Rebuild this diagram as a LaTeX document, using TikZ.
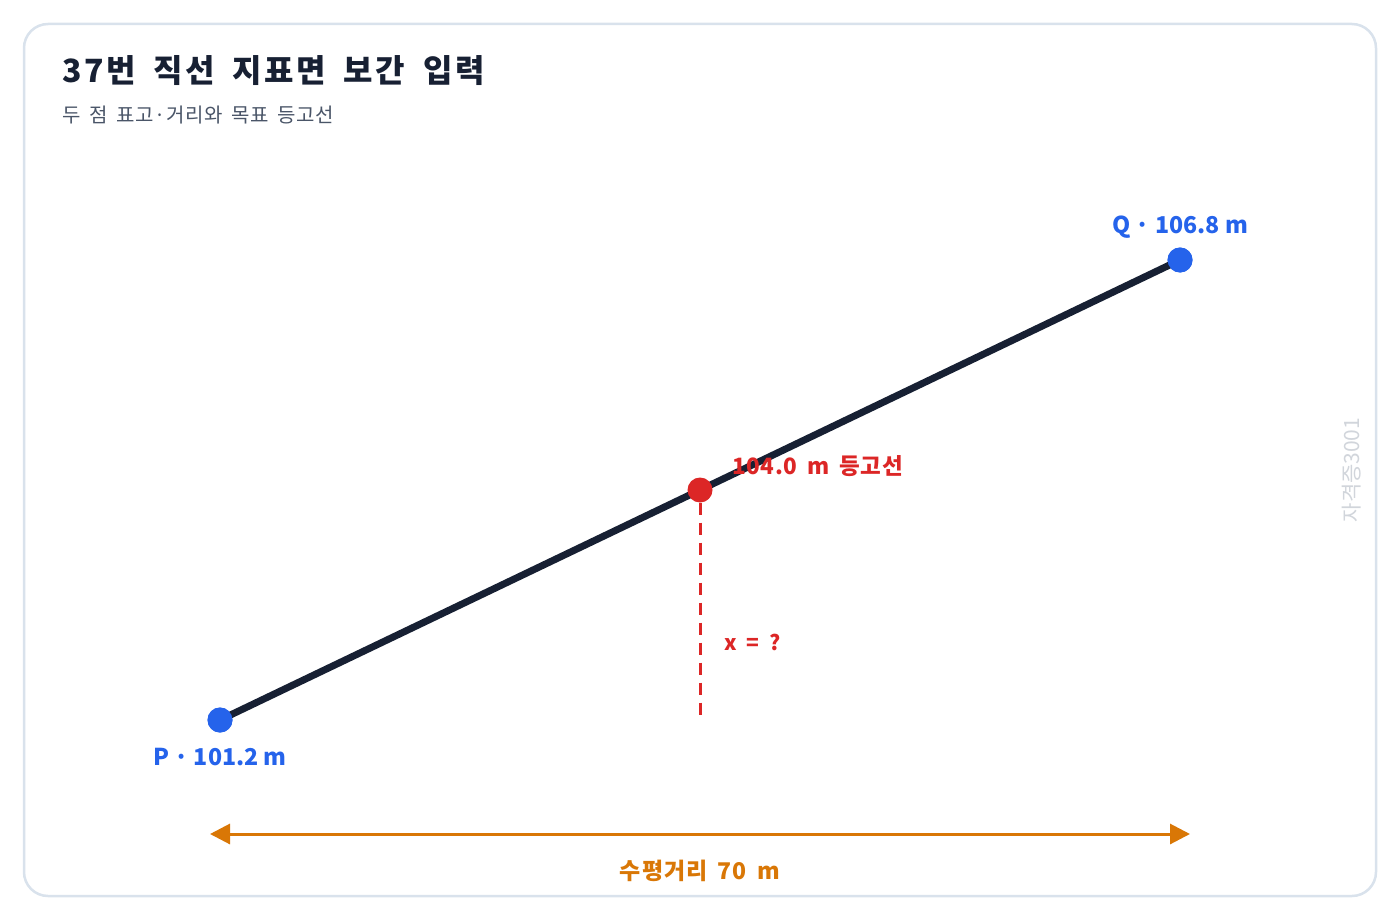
\documentclass[tikz,border=0pt]{standalone}
\usepackage{fontspec}
\setmainfont{Noto Sans CJK KR}[WordSpace=1.7]
\newfontfamily\titlefont{Noto Sans CJK KR}[WordSpace=1.8, LetterSpace=8]
\newfontfamily\labelfont{Noto Sans CJK KR}
\usepackage{tikz}
\usetikzlibrary{arrows.meta, positioning, calc}

\definecolor{framec}{HTML}{D9E2EC}
\definecolor{inkc}{HTML}{172033}
\definecolor{subc}{HTML}{4A5568}
\definecolor{ptblue}{HTML}{2563EB}
\definecolor{ptred}{HTML}{DC2626}
\definecolor{distc}{HTML}{D97706}
\definecolor{markc}{HTML}{D1D5DB}

\begin{document}
\begin{tikzpicture}[
        x=1pt, y=-1pt,
        frame/.style={draw=framec, line width=2.5pt, rounded corners=24pt, fill=white},
        title/.style={anchor=base west, inner sep=0pt, font=\titlefont\fontsize{32}{36}\selectfont\bfseries, text=inkc},
        subtitle/.style={anchor=base west, inner sep=0pt, font=\fontsize{20}{24}\selectfont\addfontfeatures{LetterSpace=3}, text=subc},
        dot/.style={circle, minimum size=25pt, inner sep=0pt},
        ptlabel/.style={font=\labelfont\fontsize{23.2}{26}\selectfont\bfseries, text=ptblue, inner sep=0pt},
        redlabel/.style={font=\fontsize{22.5}{26}\selectfont\bfseries\addfontfeatures{LetterSpace=3}, text=ptred, inner sep=0pt},
        line/.style={-, line width=7pt, draw=inkc},
        guide/.style={-, line width=3pt, draw=ptred, dash pattern=on 12pt off 8pt},
        arrow/.style={{Triangle[length=20pt,width=20pt]}-{Triangle[length=20pt,width=20pt]}, line width=3pt, draw=distc},
        every node/.style={font=\small}
    ]

    % Frame
    \useasboundingbox (0,0) rectangle (1400,920);
    \draw[frame] (24,24) rectangle (1376,896);

    % Title
    \node[title] (head) at (62,83) {37번 직선 지표면 보간 입력};
    \node[subtitle] (sub) at (62,123) {두 점 표고·거리와 목표 등고선};

    % Points
    \node[dot, fill=ptblue] (p) at (220,720) {};
    \node[dot, fill=ptblue] (q) at (1180,260) {};
    \draw[line] (p.center) -- (q.center);
    \node[dot, fill=ptblue] at (p) {};
    \node[dot, fill=ptblue] at (q) {};
    \node[ptlabel] (plabel) at (220,757) {P · 101.2 m};
    \node[ptlabel] (qlabel) at (1180,227) {Q · 106.8 m};

    % Contour point
    \coordinate (foot) at (700,720);
    \node[dot, fill=ptred] (c) at (700,490) {};
    \draw[guide] (c.south) -- (foot);
    \node[redlabel, anchor=west] (clabel) at (732,466) {104.0 m 등고선};
    \node[redlabel, anchor=west, font=\labelfont\fontsize{21}{24}\selectfont\bfseries] (xlabel) at (724,642) {x\hspace{10pt}=\hspace{10pt}?};

    % Horizontal distance
    \coordinate (dleft) at (210,834);
    \coordinate (dright) at (1190,834);
    \draw[arrow] (dleft) -- (dright);
    \node[font=\fontsize{23}{26}\selectfont\bfseries\addfontfeatures{LetterSpace=4}, text=distc, inner sep=0pt] (dist) at (700,871) {수평거리 70 m};

    % Watermark
    \node[rotate=90, font=\fontsize{21}{24}\selectfont, text=markc, inner sep=0pt] (wm) at (1352,470) {자격증3001};

\end{tikzpicture}
\end{document}
